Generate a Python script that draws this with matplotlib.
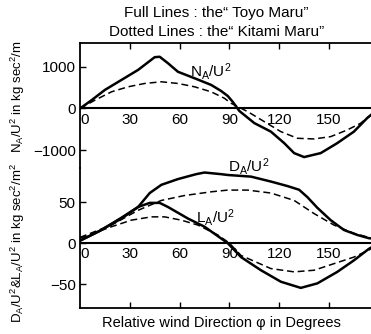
import matplotlib
matplotlib.use("Agg")
import matplotlib.pyplot as plt

# ---------------- data ----------------
# Upper panel: N_A/U^2 (kg sec^2/m) vs relative wind direction (deg)
na_toyo_deg = [0, 7, 15, 25, 35, 45, 48, 53, 59, 69, 79, 85, 89, 92, 96, 105, 115,
               123, 129, 135, 145, 155, 165, 173, 180]
na_toyo_val = [0, 200, 445, 685, 925, 1230, 1240, 1085, 880, 725, 565, 420, 300, 160,
               -60, -350, -555, -830, -1070, -1165, -1070, -830, -555, -230, 0]

na_kitami_deg = [0, 9, 19, 29, 39, 49, 59, 69, 79, 87, 91, 101, 111, 121, 131, 141,
                 151, 161, 169, 174, 180]
na_kitami_val = [0, 200, 400, 520, 600, 640, 600, 520, 400, 245, 125, -75, -315, -555,
                 -715, -730, -675, -515, -355, -195, 0]

# Lower panel: D_A/U^2 and L_A/U^2 (kg sec^2/m^2)
da_toyo_deg = [0, 12, 25, 35, 42, 49, 59, 70, 75, 85, 89, 103, 115, 125, 132, 137,
               143, 151, 159, 167, 174, 180]
da_toyo_val = [3, 15, 31, 44, 61, 71, 78, 84, 86, 84, 83, 81, 75, 69.5, 65, 56, 43,
               28, 16, 10, 6, 5]

da_kitami_deg = [0, 19, 35, 49, 63, 79, 89, 101, 115, 129, 141, 153, 165, 174, 180]
da_kitami_val = [7, 22, 40, 52, 58, 62.5, 64.6, 64.6, 61, 52, 36, 22, 12, 7, 5]

la_toyo_deg = [0, 11, 25, 35, 42, 48, 53, 65, 75, 89, 97, 109, 121, 133, 143, 155,
               165, 174, 180]
la_toyo_val = [3, 14, 30, 44, 49, 49, 44, 30, 20, 0, -17, -33, -47, -54.5, -49, -35,
               -21, -7, 0]

la_kitami_deg = [0, 19, 31, 43, 51, 61, 71, 83, 90, 97, 115, 129, 141, 153, 165, 174, 180]
la_kitami_val = [6, 20, 28, 32, 32, 28, 22, 10, 0, -15, -31, -35, -33, -25, -17, -8.5, 0]

x_ticks = [30, 60, 90, 120, 150]
x_tick_labels = ["0", "30", "60", "90", "120", "150"]
x_tick_label_pos = [0, 30, 60, 90, 120, 150]
top_yticks = [1000, 0, -1000]
top_yticklabels = ["1000", "0", "\u22121000"]
bot_yticks = [50, 0, -50]
bot_yticklabels = ["50", "0", "\u221250"]

# ---------------- figure ----------------
FONT = ["Liberation Sans", "DejaVu Sans"]
plt.rcParams["font.family"] = FONT
plt.rcParams["mathtext.fontset"] = "custom"
plt.rcParams["mathtext.rm"] = "Liberation Sans"
plt.rcParams["mathtext.it"] = "Liberation Sans:italic"

W, H = 371, 334
fig = plt.figure(figsize=(W / 100, H / 100), dpi=100)

def fx(px):
    return px / W

def fy(py):
    return 1 - py / H

left = fx(80)
width = fx(371) - left
ax1 = fig.add_axes([left, fy(168), width, fy(43) - fy(168)])
ax2 = fig.add_axes([left, fy(308), width, fy(168) - fy(308)])

xmax = (371 - 80) / 1.66

solid_kw = dict(color="black", lw=1.8, solid_capstyle="round", solid_joinstyle="round")
dash_kw = dict(color="black", lw=1.1, linestyle=(0, (4.5, 2.5)))

# upper panel
ax1.plot(na_toyo_deg, na_toyo_val, **solid_kw)
ax1.plot(na_kitami_deg, na_kitami_val, **dash_kw)
ax1.axhline(0, color="black", lw=1.5)
ax1.set_xlim(0, xmax)
ax1.set_ylim(-1427, 1570)

# lower panel
ax2.plot(da_toyo_deg, da_toyo_val, **solid_kw)
ax2.plot(da_kitami_deg, da_kitami_val, **dash_kw)
ax2.plot(la_toyo_deg, la_toyo_val, **solid_kw)
ax2.plot(la_kitami_deg, la_kitami_val, **dash_kw)
ax2.axhline(0, color="black", lw=1.5)
ax2.set_xlim(0, xmax)
ax2.set_ylim(-79, 91.5)

for ax in (ax1, ax2):
    ax.set_facecolor("none")
    ax.spines["right"].set_visible(False)
    ax.spines["left"].set_linewidth(1.3)
    ax.set_xticks(x_ticks)
    ax.set_xticklabels([])
    for i, lab in enumerate(x_tick_labels):
        xp = x_tick_label_pos[i] + (2.8 if lab == "0" else 0)
        ax.annotate(lab, (xp, 0), xytext=(0, -8), textcoords="offset points",
                    ha="center", va="center", fontsize=11)

ax1.spines["bottom"].set_visible(False)
ax1.spines["top"].set_linewidth(1.3)
ax2.spines["top"].set_visible(False)
ax2.spines["bottom"].set_linewidth(1.3)

ax1.tick_params(axis="x", which="both", top=True, bottom=False, direction="in",
                length=4, width=1)
ax2.tick_params(axis="x", which="both", top=False, bottom=True, direction="in",
                length=4, width=1)

ax1.set_yticks(top_yticks)
ax1.set_yticklabels(top_yticklabels)
ax2.set_yticks(bot_yticks)
ax2.set_yticklabels(bot_yticklabels)
for ax in (ax1, ax2):
    ax.tick_params(axis="y", direction="in", length=4, width=1, pad=3, labelsize=11)

# curve labels
ax1.text((211 - 80) / 1.66, (108.5 - 72) / 41.7 * 1000, r"N$_{\rm A}$/U$^{\rm 2}$",
         ha="center", va="center", fontsize=11, clip_on=False)
ax2.text((249 - 80) / 1.66, (243 - 166) / 0.82, r"D$_{\rm A}$/U$^{\rm 2}$",
         ha="center", va="center", fontsize=11, clip_on=False)
ax2.text((215 - 80) / 1.66, (243 - 217) / 0.82, r"L$_{\rm A}$/U$^{\rm 2}$",
         ha="center", va="center", fontsize=11, clip_on=False)

# titles and labels
fig.text(fx(216), fy(13), "Full Lines : the\u201c Toyo Maru\u201d", ha="center",
         va="center", fontsize=11)
fig.text(fx(217), fy(32), "Dotted Lines : the\u201c Kitami Maru\u201d", ha="center",
         va="center", fontsize=11)
fig.text(fx(221), fy(323), "Relative wind Direction \u03c6 in Degrees", ha="center",
         va="center", fontsize=10.5)
fig.text(fx(18), fy(97), r"N$_{\rm A}$/U$^{\rm 2}$ in kg sec$^{\rm 2}$/m",
         rotation=90, ha="center", va="center", fontsize=9.5)
fig.text(fx(18), fy(243), r"D$_{\rm A}$/U$^{\rm 2}$&L$_{\rm A}$/U$^{\rm 2}$ in kg sec$^{\rm 2}$/m$^{\rm 2}$",
         rotation=90, ha="center", va="center", fontsize=9.5)

fig.savefig("out.png", dpi=100)
